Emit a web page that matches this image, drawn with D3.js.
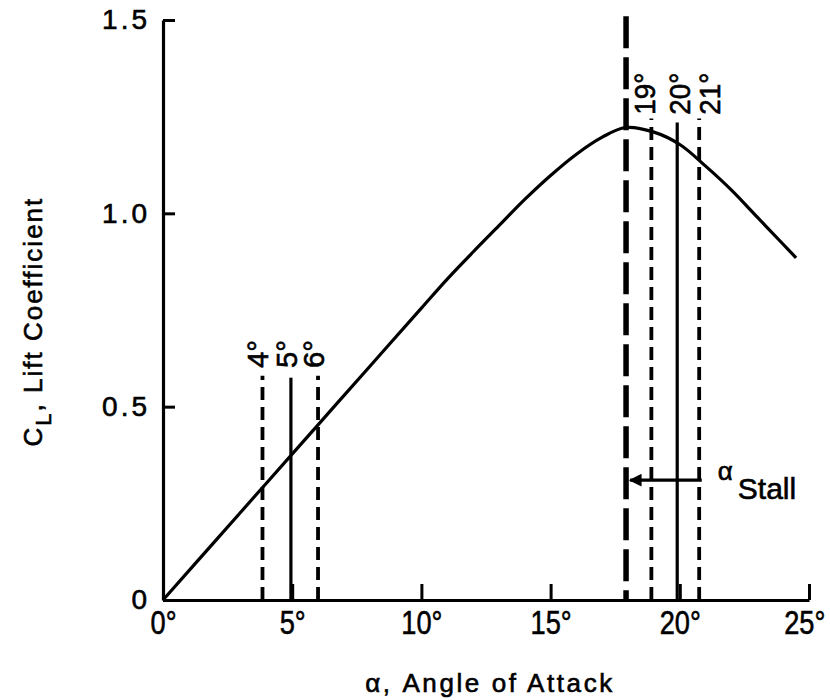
<!DOCTYPE html>
<html lang="en">
<head>
    <meta charset="UTF-8">
    <title>Lift Coefficient vs Angle of Attack</title>
    <script src="https://d3js.org/d3.v7.min.js"></script>
    <style>
        body { margin: 0; background: #fff; }
        svg text { font-family: "Liberation Sans", Arial, sans-serif; fill: #000; stroke: #000; stroke-width: 0.6px; }
    </style>
</head>
<body>
    <svg width="830" height="700"></svg>
    <script>
        // curve: angle of attack (deg) and lift coefficient
        const alpha = [0, 2, 4, 6, 8, 10, 11, 12, 13, 14, 15, 16, 17, 17.9, 19, 20, 21, 22, 23, 24, 24.5];
        const cl = [0, 0.151, 0.302, 0.453, 0.604, 0.755, 0.83, 0.9, 0.968, 1.036, 1.098, 1.153, 1.197, 1.222, 1.21, 1.178, 1.122, 1.06, 0.99, 0.92, 0.885];

        const xTicks = [0, 5, 10, 15, 20, 25];
        const yTicks = [0, 0.5, 1.0, 1.5];

        // marker lines: where they stand, how high they reach, dashed or not
        const markAt = [3.85, 4.95, 6.0, 18.9, 19.9, 20.75];
        const markTop = [0.58, 0.575, 0.58, 1.245, 1.235, 1.245];
        const markDashed = [true, false, true, true, false, true];
        const markLabels = ["4°", "5°", "6°", "19°", "20°", "21°"];
        const labelAt = [3.68, 4.8, 5.84, 18.65, 20.0, 21.17];
        const labelBase = [0.60, 0.60, 0.60, 1.255, 1.255, 1.255];

        const stallAt = 17.92;
        const stallTop = 1.51;
        const arrowFrom = 20.85;
        const arrowLevel = 0.31;

        const svg = d3.select("svg");

        const x = d3.scaleLinear().domain([0, 25]).range([163, 809]);
        const y = d3.scaleLinear().domain([0, 1.5]).range([600, 20]);

        // y axis, ticks pointing inward
        const yAxis = svg.append("g")
            .attr("transform", `translate(${x(0)},0)`)
            .call(d3.axisLeft(y).tickValues(yTicks).tickSize(-12).tickSizeOuter(0).tickPadding(13)
                .tickFormat(d => d === 0 ? "0" : d3.format(".1f")(d)));
        yAxis.select(".domain").attr("stroke-width", 3.2);
        yAxis.selectAll(".tick line").attr("stroke-width", 3);
        yAxis.selectAll(".tick text")
            .attr("font-size", 28)
            .attr("letter-spacing", 3)
            .attr("font-family", "Liberation Sans, sans-serif");

        // x axis; labels squeezed to the narrow face of the original
        const xAxis = svg.append("g")
            .attr("transform", `translate(0,${y(0)})`)
            .call(d3.axisBottom(x).tickValues(xTicks).tickSize(-16).tickSizeOuter(0).tickPadding(10)
                .tickFormat(d => d + "°"));
        xAxis.select(".domain").attr("stroke-width", 3.2);
        xAxis.selectAll(".tick line").attr("stroke-width", 3);
        xAxis.selectAll(".tick text")
            .attr("font-size", 34)
            .attr("dx", d => d === 25 ? -6 : 0)
            .attr("transform", "scale(0.8,1)");

        // marker lines
        svg.append("g").selectAll("line")
            .data(markAt)
            .enter().append("line")
            .attr("x1", d => x(d))
            .attr("x2", d => x(d))
            .attr("y1", y(0))
            .attr("y2", (d, i) => y(markTop[i]))
            .attr("stroke", "#000")
            .attr("stroke-width", (d, i) => markDashed[i] ? 3.8 : 3.2)
            .attr("stroke-dasharray", (d, i) => markDashed[i] ? "13,7" : null);

        svg.append("g").selectAll("text")
            .data(markLabels)
            .enter().append("text")
            .attr("transform", (d, i) => `translate(${x(labelAt[i])},${y(labelBase[i])}) rotate(-90)`)
            .attr("dominant-baseline", "central")
            .attr("font-size", 29)
            .attr("textLength", d => 14 * d.length)
            .attr("lengthAdjust", "spacingAndGlyphs")
            .text(d => d);

        // stall line
        svg.append("line")
            .attr("x1", x(stallAt))
            .attr("x2", x(stallAt))
            .attr("y1", y(stallTop))
            .attr("y2", y(0))
            .attr("stroke", "#000")
            .attr("stroke-width", 5.5)
            .attr("stroke-dasharray", "32,9");

        // the lift curve
        const line = d3.line()
            .x(d => x(d[0]))
            .y(d => y(d[1]))
            .curve(d3.curveCatmullRom.alpha(0.5));

        svg.append("path")
            .datum(alpha.map((a, i) => [a, cl[i]]))
            .attr("d", line)
            .attr("fill", "none")
            .attr("stroke", "#000")
            .attr("stroke-width", 3.2);

        // arrow pointing at the stall line
        svg.append("defs").append("marker")
            .attr("id", "head")
            .attr("viewBox", "0 0 10 10")
            .attr("refX", 9)
            .attr("refY", 5)
            .attr("markerWidth", 5)
            .attr("markerHeight", 4)
            .attr("markerUnits", "strokeWidth")
            .attr("orient", "auto")
            .append("path")
            .attr("d", "M0,0 L10,5 L0,10 Z")
            .attr("fill", "#000");

        svg.append("line")
            .attr("x1", x(arrowFrom))
            .attr("x2", x(stallAt) + 4)
            .attr("y1", y(arrowLevel))
            .attr("y2", y(arrowLevel))
            .attr("stroke", "#000")
            .attr("stroke-width", 3.2)
            .attr("marker-end", "url(#head)");

        const stallLabel = svg.append("text")
            .attr("x", x(arrowFrom) + 16)
            .attr("y", y(arrowLevel))
            .attr("font-size", 26);
        stallLabel.append("tspan").text("α");
        stallLabel.append("tspan")
            .attr("dx", 5)
            .attr("dy", 19)
            .attr("font-size", 30)
            .text("Stall");

        // axis titles
        svg.append("text")
            .attr("x", 490)
            .attr("y", 692)
            .attr("text-anchor", "middle")
            .attr("font-size", 26)
            .attr("letter-spacing", 2.6)
            .text("α, Angle of Attack");

        const yTitle = svg.append("text")
            .attr("transform", `translate(42,${y(0.72)}) rotate(-90)`)
            .attr("text-anchor", "middle")
            .attr("font-size", 26)
            .attr("letter-spacing", 2);
        yTitle.append("tspan").text("C");
        yTitle.append("tspan").attr("dy", 9).attr("font-size", 22).text("L");
        yTitle.append("tspan").attr("dy", -9).text(", Lift Coefficient");
    </script>
</body>
</html>
